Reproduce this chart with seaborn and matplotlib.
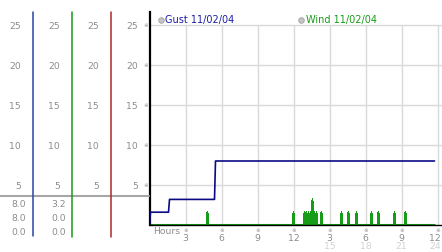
import matplotlib
matplotlib.use("Agg")
import matplotlib.pyplot as plt
import seaborn as sns
import numpy as np
import pandas as pd

# ---------------- data ----------------
gust_hours = [0.0, 0.083, 1.583, 1.667, 5.417, 5.5, 23.75]
gust_speeds = [0.0, 1.6, 1.6, 3.2, 3.2, 8.0, 8.0]

wind_spike_hours = [4.833, 12.0, 12.917, 13.083, 13.25, 13.417, 13.583, 13.75,
                    13.917, 14.333, 16.0, 16.583, 17.25, 18.5, 19.083, 20.417, 21.333]
wind_spike_speeds = [1.6, 1.6, 1.6, 1.6, 1.6, 1.6, 3.2, 1.6,
                     1.6, 1.6, 1.6, 1.6, 1.6, 1.6, 1.6, 1.6, 1.6]
wind_end_hour = 23.75
spike_half = 0.02  # half-width of a single gust reading on the time axis

y_ticks = [5, 10, 15, 20, 25]
hour_ticks = [3, 6, 9, 12, 15, 18, 21, 24]
hour_labels = ["3", "6", "9", "12", "3", "6", "9", "12"]
hour_labels2 = ["", "", "", "", "15", "18", "21", "24"]

series_names = ["Gust 11/02/04", "Wind 11/02/04"]
gust_stats = ["8.0", "8.0", "0.0"]
wind_stats = ["3.2", "0.0", "0.0"]

# build wind series (zero readings around each spike)
wt, ws = [0.0], [0.0]
for h, v in zip(wind_spike_hours, wind_spike_speeds):
    wt += [h - spike_half, h, h + spike_half]
    ws += [0.0, v, 0.0]
wt.append(wind_end_hour)
ws.append(0.0)
wind_df = pd.DataFrame({"hour": wt, "speed": ws})
gust_df = pd.DataFrame({"hour": gust_hours, "speed": gust_speeds})

# ---------------- style ----------------
sns.set_style("white")
plt.rcParams["font.family"] = ["DejaVu Sans"]

W, H = 442, 253
PX_H = 12.0   # px per hour
PX_V = 8.0    # px per unit
X0 = 149.5    # left edge of plot area in px
fig = plt.figure(figsize=(W / 100, H / 100), dpi=100)

ax = fig.add_axes([X0 / W, (H - 226) / H, (W - X0) / W, 213 / H])
xmax = (W - X0) / PX_H
ymax = 213 / PX_V
ax.set_xlim(0, xmax)
ax.set_ylim(0, ymax)

axL = fig.add_axes([0, (H - 226) / H, 150 / W, 213 / H])
axL.set_xlim(0, 150)
axL.set_ylim(0, ymax)
axL.axis("off")

GRID = "#d9d9d9"
LBL = "#8c8c8c"
LBL2 = "#d2d2d2"
NAVY = "#0a0a85"
GREEN = "#169c16"
BLUE = "#2a45a0"
RED = "#b02828"
FS = 6.7

def hx_px(xpx):
    return (xpx - X0) / PX_H

def vy(ypx):
    return (226 - ypx) / PX_V

# grid
ax.vlines(hour_ticks, 0, 25, color=GRID, lw=1, zorder=0)
ax.hlines(y_ticks, 0, xmax, color=GRID, lw=1, zorder=0)

# series
sns.lineplot(data=wind_df, x="hour", y="speed", ax=ax, color=GREEN, lw=0.7,
             sort=False, estimator=None, zorder=2, antialiased=False)
ax.plot([0, wind_end_hour], [0, 0], color=GREEN, lw=2.2, zorder=1,
        solid_capstyle="butt")
sns.lineplot(data=gust_df, x="hour", y="speed", ax=ax, color=NAVY, lw=1.2,
             sort=False, estimator=None, zorder=3)

ax.set_xlabel("")
ax.set_ylabel("")
ax.set_xticks([])
ax.set_yticks([])
for s in ["top", "right"]:
    ax.spines[s].set_visible(False)
ax.spines["left"].set_color("black")
ax.spines["left"].set_linewidth(1.6)
ax.spines["bottom"].set_color("black")
ax.spines["bottom"].set_linewidth(1.0)
ax.spines["bottom"].set_zorder(4)

# legend
leg_y = vy(20.5)
ax.plot([hx_px(161)], [leg_y], "o", ms=4, mfc="#c4c4c4", mec="#a0a0a0",
        mew=0.6, clip_on=False)
ax.text(hx_px(165), leg_y, series_names[0], color="#1c1ca8", fontsize=FS + 0.3,
        va="center", ha="left")
ax.plot([hx_px(301)], [leg_y], "o", ms=4, mfc="#c4c4c4", mec="#a0a0a0",
        mew=0.6, clip_on=False)
ax.text(hx_px(306), leg_y, series_names[1], color=GREEN, fontsize=FS + 0.3,
        va="center", ha="left")

# x tick labels
ax.text(hx_px(153), vy(232), "Hours", color=LBL, fontsize=FS,
        ha="left", va="center")
for i, (h, l1, l2) in enumerate(zip(hour_ticks, hour_labels, hour_labels2)):
    last = i == len(hour_ticks) - 1
    hx = hx_px(441) if last else h
    ha = "right" if last else "center"
    ax.text(h, vy(230.5), "※", color=LBL, fontsize=4.0, ha="center", va="center")
    ax.text(hx, vy(238.5), l1, color=LBL, fontsize=FS, ha=ha, va="center")
    if l2:
        ax.text(hx, vy(246.8), l2, color=LBL2, fontsize=FS, ha=ha, va="center")

# left scale panel
for xr in [21, 60, 99, 138]:
    for v in y_ticks:
        axL.text(xr, v - 0.06, str(v), color=LBL, fontsize=FS, ha="right", va="center")
for v in y_ticks:
    axL.text(145.5, v, "※", color=LBL, fontsize=4.0, ha="center", va="center")

top_v = ymax
axL.plot([33, 33], [top_v, vy(237)], color=BLUE, lw=1.1, clip_on=False)
axL.plot([72, 72], [top_v, vy(238)], color=GREEN, lw=1.1, clip_on=False)
axL.plot([111, 111], [top_v, vy(238)], color=RED, lw=1.1, clip_on=False)
axL.plot([0, 149], [vy(197), vy(197)], color="#a6a6a6", lw=1.5, clip_on=False, zorder=0)

for i, yp in enumerate([204.7, 218.3, 232.7]):
    axL.text(26, vy(yp), gust_stats[i], color=LBL, fontsize=FS, ha="right", va="center")
    axL.text(66, vy(yp), wind_stats[i], color=LBL, fontsize=FS, ha="right", va="center")

fig.savefig("out.png", dpi=100)
